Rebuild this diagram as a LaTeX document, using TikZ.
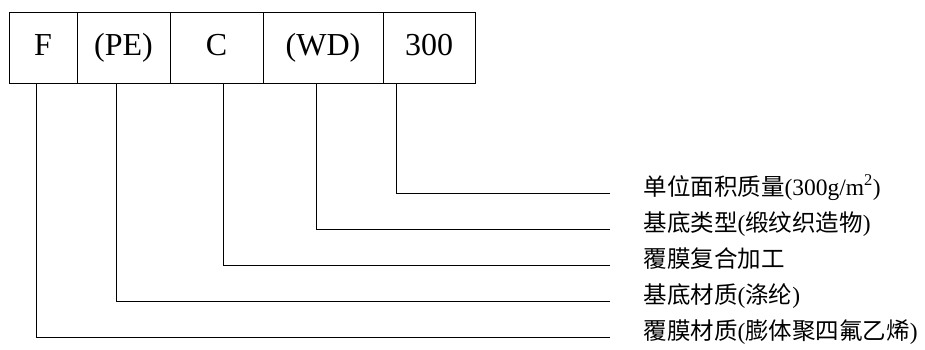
\documentclass[tikz,border=0pt]{standalone}
\usepackage{fontspec}
\setmainfont{Liberation Serif}
\newfontfamily\cjk{Noto Sans CJK SC}
\begin{document}
\begin{tikzpicture}[x=1pt,y=-1pt,line width=1pt,
  cell/.style={draw,rectangle,inner sep=0pt,minimum height=71pt,text height=22pt,text depth=7pt,font=\fontsize{32}{36}\selectfont},
  lbl/.style={anchor=base west,inner sep=0pt,font=\fontsize{23.5}{26}\selectfont},
  lead/.style={line width=1pt}]
\useasboundingbox (0,0) rectangle (925,349);
% code cells
\node[cell,minimum width=68pt]  (b1) at (43,47.5)    {F};
\node[cell,minimum width=93pt]  (b2) at (123.5,47.5) {(PE)};
\node[cell,minimum width=93pt]  (b3) at (216.5,47.5) {C};
\node[cell,minimum width=120pt] (b4) at (323,47.5)   {(WD)};
\node[cell,minimum width=92pt]  (b5) at (429,47.5)   {300};
% line ends
\coordinate (e5) at (610,193);
\coordinate (e4) at (610,229);
\coordinate (e3) at (610,265);
\coordinate (e2) at (610,301);
\coordinate (e1) at (610,337);
% labels
\node[lbl] (t5) at (643,195) {{\cjk 单位面积质量}(300g/m\textsuperscript{2})};
\node[lbl] (t4) at (643,231) {{\cjk 基底类型}({\cjk 缎纹织造物})};
\node[lbl] (t3) at (643,267) {\cjk 覆膜复合加工};
\node[lbl] (t2) at (643,303) {{\cjk 基底材质}({\cjk 涤纶})};
\node[lbl] (t1) at (643,339) {{\cjk 覆膜材质}({\cjk 膨体聚四氟乙烯})};
% leaders
\draw[lead] ([xshift=-33pt]b5.south) |- (e5);
\draw[lead] ([xshift=-7pt]b4.south) |- (e4);
\draw[lead] ([xshift=6.5pt]b3.south) |- (e3);
\draw[lead] ([xshift=-7.5pt]b2.south) |- (e2);
\draw[lead] ([xshift=-7pt]b1.south) |- (e1);
\end{tikzpicture}
\end{document}
